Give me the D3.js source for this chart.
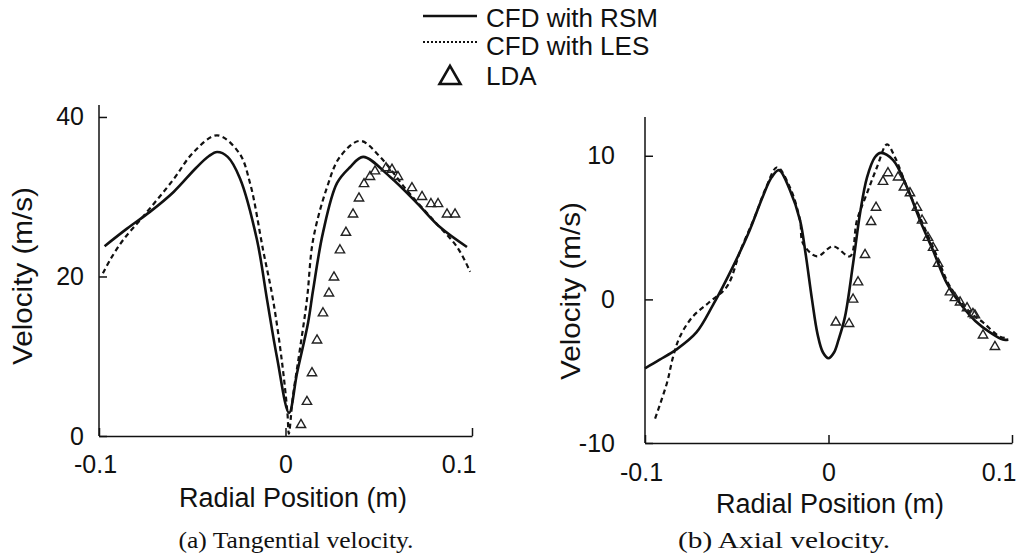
<!DOCTYPE html>
<html>
<head>
<meta charset="utf-8">
<script src="https://cdn.jsdelivr.net/npm/d3@7"></script>
<style>
  html, body { margin: 0; padding: 0; background: #fff; }
  svg { display: block; }
  .axis path, .axis line { stroke: #111; stroke-width: 1.5; }
  .axis text { font-family: "Liberation Sans", Arial, sans-serif; font-size: 25px; fill: #111; }
</style>
</head>
<body>
<svg id="chart" width="1018" height="559"></svg>
<script>
// Tangential velocity (m/s) versus radial position (m)
const tangentialRSM = [
  [-0.097, 23.8], [-0.085, 26.0], [-0.0727, 28.1], [-0.060, 30.6], [-0.048, 33.6],
  [-0.041, 35.1], [-0.0367, 35.6], [-0.031, 35.0], [-0.0244, 32.3], [-0.0153, 24.6],
  [-0.0099, 17.1], [-0.0046, 9.9], [0.0019, 2.9], [0.0062, 7.9], [0.0121, 14.2],
  [0.0148, 18.3], [0.0201, 25.5], [0.0276, 31.7], [0.0346, 33.7], [0.0416, 35.0],
  [0.056, 32.5], [0.0705, 29.2], [0.0828, 26.2], [0.0973, 23.7]
];
const tangentialLES = [
  [-0.0979, 20.4], [-0.094, 22.1], [-0.087, 24.6], [-0.0764, 27.5], [-0.0603, 32.1],
  [-0.0496, 35.5], [-0.0367, 37.7], [-0.0249, 35.5], [-0.019, 31.7], [-0.012, 23.3],
  [-0.0067, 17.1], [-0.002, 9.5], [0.001, 3.0], [0.0018, 0.3], [0.004, 5.0],
  [0.0075, 10.5], [0.0115, 17.1], [0.0148, 24.6], [0.0223, 31.2], [0.0292, 35.0],
  [0.040, 37.0], [0.0507, 35.0], [0.0651, 30.8], [0.0791, 27.1], [0.092, 23.7],
  [0.099, 20.6]
];
const tangentialLDA = [
  [0.0083, 1.4], [0.0115, 4.3], [0.0142, 7.9], [0.0169, 12.0], [0.0201, 15.4],
  [0.0233, 17.9], [0.026, 19.9], [0.0292, 23.3], [0.0324, 25.5], [0.0362, 27.8],
  [0.0394, 29.8], [0.0421, 31.6], [0.0453, 32.5], [0.048, 33.2], [0.0539, 33.6],
  [0.0571, 33.4], [0.0603, 32.5], [0.0678, 31.1], [0.0732, 30.0], [0.078, 29.1],
  [0.0818, 29.1], [0.0866, 27.8], [0.0909, 27.8]
];

// Axial velocity (m/s) versus radial position (m)
const axialRSM = [
  [-0.1, -4.8], [-0.092, -4.2], [-0.083, -3.5], [-0.072, -2.3], [-0.063, -0.4],
  [-0.052, 2.3], [-0.043, 4.8], [-0.036, 7.1], [-0.031, 8.5], [-0.027, 9.0],
  [-0.021, 7.6], [-0.0155, 5.5], [-0.0125, 3.2], [-0.009, 0.0], [-0.006, -2.4],
  [-0.003, -3.7], [0.0, -4.1], [0.003, -3.7], [0.0055, -2.8], [0.009, -1.2],
  [0.0134, 2.5], [0.0172, 6.0], [0.021, 8.5], [0.0253, 9.9], [0.0285, 10.2],
  [0.0352, 9.7], [0.0428, 7.8], [0.0499, 5.5], [0.057, 3.4], [0.0646, 1.1],
  [0.073, -0.5], [0.080, -1.5], [0.088, -2.3], [0.095, -2.8], [0.098, -2.8]
];
const axialLES = [
  [-0.0945, -8.3], [-0.088, -5.8], [-0.0847, -4.0], [-0.081, -2.6], [-0.074, -1.2],
  [-0.065, -0.2], [-0.0553, 0.9], [-0.048, 3.4], [-0.040, 5.8], [-0.034, 7.8],
  [-0.028, 9.2], [-0.021, 7.8], [-0.0155, 5.5], [-0.0139, 3.9], [-0.0063, 3.0],
  [0.0025, 3.7], [0.0117, 3.0], [0.0155, 5.5], [0.021, 7.4], [0.0264, 9.2],
  [0.0319, 10.8], [0.0362, 9.9], [0.0428, 7.8], [0.0499, 5.7], [0.0591, 3.0],
  [0.0662, 0.9], [0.0771, -0.9], [0.0842, -1.6], [0.0935, -2.6], [0.098, -2.7]
];
const axialLDA = [
  [0.004, -1.6], [0.0112, -1.7], [0.0134, 0.0], [0.0161, 1.2], [0.0199, 3.1],
  [0.0232, 5.4], [0.0259, 6.4], [0.0297, 8.2], [0.0324, 8.8], [0.0379, 8.5],
  [0.0411, 7.8], [0.0444, 7.4], [0.0482, 6.4], [0.051, 5.5], [0.0542, 4.3],
  [0.057, 3.6], [0.0597, 2.5], [0.0662, 0.5], [0.0689, 0.1], [0.0717, -0.2],
  [0.0755, -0.6], [0.0787, -1.0], [0.0798, -1.1], [0.0842, -2.5], [0.0907, -3.3]
];

const xTicks = [-0.1, 0, 0.1];
const tangentialTicks = [0, 20, 40];
const axialTicks = [-10, 0, 10];
const legendLabels = ["CFD with RSM", "CFD with LES", "LDA"];
const captions = ["(a) Tangential velocity.", "(b) Axial velocity."];

const svg = d3.select("#chart");
const FONT = '"Liberation Sans", Arial, sans-serif';
// plain hyphen for negative numbers
const fmt = d => String(d).replace("\u2212", "-");

const panels = [
  {
    rsm: tangentialRSM, les: tangentialLES, lda: tangentialLDA,
    xRange: [99, 472], yDomain: [0, 41.5], yRange: [436, 105], yTicks: tangentialTicks,
    yPad: 15, xPad: 19, xTitle: [293, 507], yTitle: [32, 276],
    caption: captions[0], capX: 296, capLen: 235
  },
  {
    rsm: axialRSM, les: axialLES, lda: axialLDA,
    xRange: [645, 1012], yDomain: [-10, 12.7], yRange: [443, 117], yTicks: axialTicks,
    yPad: 30, xPad: 20, xTitle: [830, 513], yTitle: [580, 291],
    caption: captions[1], capX: 784, capLen: 212
  }
];

panels.forEach(p => {
  const x = d3.scaleLinear().domain([-0.1, 0.1]).range(p.xRange);
  const y = d3.scaleLinear().domain(p.yDomain).range(p.yRange);
  const g = svg.append("g");

  // axes with inward ticks
  const yAxis = d3.axisLeft(y).tickValues(p.yTicks).tickSizeInner(-8).tickSizeOuter(0)
    .tickPadding(p.yPad).tickFormat(fmt);
  g.append("g").attr("class", "axis").attr("transform", `translate(${p.xRange[0]},0)`)
    .call(yAxis).call(s => s.select(".domain").attr("d", `M0,${p.yRange[0]}V${p.yRange[1]}`));

  const xAxis = d3.axisBottom(x).tickValues(xTicks).tickSizeInner(-8).tickSizeOuter(0)
    .tickPadding(p.xPad).tickFormat(fmt);
  g.append("g").attr("class", "axis").attr("transform", `translate(0,${p.yRange[0]})`)
    .call(xAxis)
    .call(s => s.selectAll(".tick text").attr("text-anchor", d => d === 0.1 ? "end" : "middle")
      .attr("dx", d => d === 0.1 ? 4 : (d === -0.1 ? -4 : 0)));

  // axis titles
  g.append("text").attr("x", p.xTitle[0]).attr("y", p.xTitle[1])
    .attr("text-anchor", "middle").attr("font-family", FONT).attr("font-size", 27)
    .attr("fill", "#111").text("Radial Position (m)");
  g.append("text").attr("transform", `translate(${p.yTitle[0]},${p.yTitle[1]}) rotate(-90)`)
    .attr("text-anchor", "middle").attr("font-family", FONT).attr("font-size", 27)
    .attr("textLength", 178).attr("lengthAdjust", "spacingAndGlyphs")
    .attr("fill", "#111").text("Velocity (m/s)");

  const line = d3.line().x(d => x(d[0])).y(d => y(d[1])).curve(d3.curveCatmullRom.alpha(0.5));

  g.append("path").datum(p.les).attr("d", line).attr("fill", "none")
    .attr("stroke", "#111").attr("stroke-width", 2.2).attr("stroke-dasharray", "5,3.5");
  g.append("path").datum(p.rsm).attr("d", line).attr("fill", "none")
    .attr("stroke", "#111").attr("stroke-width", 2.6);

  g.selectAll(".lda").data(p.lda).join("path").attr("class", "lda")
    .attr("transform", d => `translate(${x(d[0])},${y(d[1])})`)
    .attr("d", d3.symbol(d3.symbolTriangle, 38))
    .attr("fill", "none").attr("stroke", "#222").attr("stroke-width", 1.4);

  // caption
  svg.append("text").attr("x", p.capX).attr("y", 548).attr("text-anchor", "middle")
    .attr("font-family", '"Liberation Serif", "DejaVu Serif", serif').attr("font-size", 23)
    .attr("textLength", p.capLen).attr("lengthAdjust", "spacingAndGlyphs")
    .attr("fill", "#111").text(p.caption);
});

// legend
const legend = svg.append("g");
const rowsY = [27, 55, 85];
legend.append("line").attr("x1", 423).attr("x2", 477).attr("y1", 16).attr("y2", 16)
  .attr("stroke", "#111").attr("stroke-width", 2.6);
legend.append("line").attr("x1", 423).attr("x2", 477).attr("y1", 42).attr("y2", 42)
  .attr("stroke", "#111").attr("stroke-width", 2.2).attr("stroke-dasharray", "2,2");
legend.append("path").attr("transform", "translate(450,78)")
  .attr("d", d3.symbol(d3.symbolTriangle, 190)).attr("fill", "none")
  .attr("stroke", "#111").attr("stroke-width", 2.6);
legendLabels.forEach((t, i) => {
  legend.append("text").attr("x", 486).attr("y", rowsY[i]).attr("font-family", FONT)
    .attr("font-size", 26).attr("fill", "#111").text(t);
});
</script>
</body>
</html>
